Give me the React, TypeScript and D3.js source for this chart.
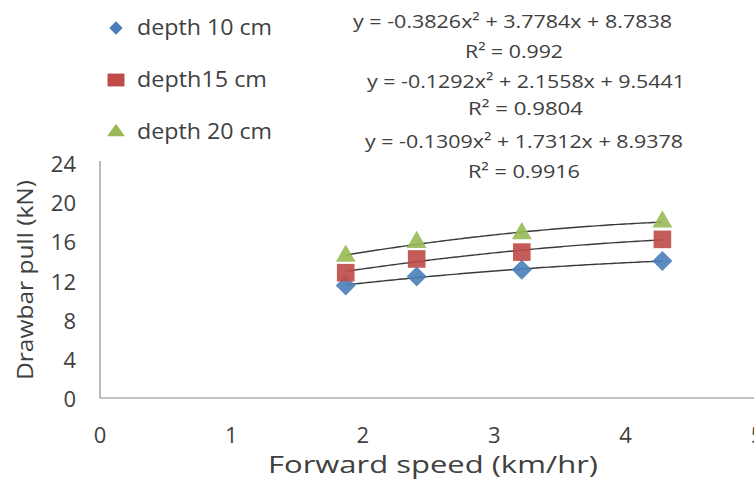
import { useEffect, useRef } from 'react';
import * as d3 from 'd3';

const speeds = [1.87, 2.41, 3.21, 4.28];
const depth10 = [11.5, 12.4, 13.1, 14.0];
const depth15 = [12.8, 14.2, 14.9, 16.2];
const depth20 = [14.5, 15.9, 16.8, 18.0];
const seriesNames = ['depth 10 cm', 'depth15 cm', 'depth 20 cm'];
const equations = [
  ['y = -0.3826x² + 3.7784x + 8.7838', 'R² = 0.992'],
  ['y = -0.1292x² + 2.1558x + 9.5441', 'R² = 0.9804'],
  ['y = -0.1309x² + 1.7312x + 8.9378', 'R² = 0.9916'],
];
const yTicks = [0, 4, 8, 12, 16, 20, 24];
const xTicks = [0, 1, 2, 3, 4, 5];

const colors = ['#4a7ebb', '#be4b48', '#98b954'];
const FONT = "'Open Sans', 'Noto Sans', sans-serif";
const INK = '#404040';

// least squares quadratic fit (for the trend lines)
function quadFit(xs: number[], ys: number[]) {
  const s = (f: (x: number, y: number) => number) => d3.sum(xs.map((x, i) => f(x, ys[i])));
  const A = [
    [s(x => x ** 4), s(x => x ** 3), s(x => x ** 2)],
    [s(x => x ** 3), s(x => x ** 2), s(x => x)],
    [s(x => x ** 2), s(x => x), xs.length],
  ];
  const b = [s((x, y) => x * x * y), s((x, y) => x * y), s((_, y) => y)];
  const det = (m: number[][]) =>
    m[0][0] * (m[1][1] * m[2][2] - m[1][2] * m[2][1]) -
    m[0][1] * (m[1][0] * m[2][2] - m[1][2] * m[2][0]) +
    m[0][2] * (m[1][0] * m[2][1] - m[1][1] * m[2][0]);
  const D = det(A);
  const coef = [0, 1, 2].map(c => det(A.map((row, r) => row.map((v, k) => (k === c ? b[r] : v)))) / D);
  return (x: number) => coef[0] * x * x + coef[1] * x + coef[2];
}

export default function App() {
  const ref = useRef<SVGSVGElement>(null);

  useEffect(() => {
    const svg = d3.select(ref.current);
    svg.selectAll('*').remove();

    const x = d3.scaleLinear().domain([0, 5]).range([100, 757]);
    const y = d3.scaleLinear().domain([0, 24]).range([398, 163]);

    const txt = (sel: any, size: number) =>
      sel.style('font-family', FONT).style('font-size', `${size}px`).style('fill', INK);

    // axes lines
    svg.append('line').attr('x1', 100).attr('x2', 100).attr('y1', 161).attr('y2', 398)
      .attr('stroke', '#8a8a8a').attr('stroke-width', 1.2);
    svg.append('line').attr('x1', 100).attr('x2', 754).attr('y1', 398).attr('y2', 398)
      .attr('stroke', '#8a8a8a').attr('stroke-width', 1.2);

    txt(svg.selectAll('.ytick').data(yTicks).enter().append('text')
      .attr('x', 76).attr('y', d => y(d) + 9).attr('text-anchor', 'end'), 22)
      .text(d => d);
    txt(svg.selectAll('.xtick').data(xTicks).enter().append('text')
      .attr('x', d => x(d)).attr('y', 443).attr('text-anchor', 'middle'), 22)
      .text(d => d);

    txt(svg.append('text').attr('transform', 'translate(33,280) rotate(-90)').attr('text-anchor', 'middle')
      .attr('textLength', 200).attr('lengthAdjust', 'spacingAndGlyphs'), 21)
      .text('Drawbar pull (kN)');
    txt(svg.append('text').attr('x', 433).attr('y', 473).attr('text-anchor', 'middle')
      .attr('textLength', 330).attr('lengthAdjust', 'spacingAndGlyphs'), 24)
      .text('Forward speed (km/hr)');

    const series = [depth10, depth15, depth20];
    // diamond = square turned 45°
    const shapes = [
      { sym: d3.symbolSquare, size: 200, rot: 45 },
      { sym: d3.symbolSquare, size: 310, rot: 0 },
      { sym: d3.symbolTriangle, size: 170, rot: 0 },
    ];

    // trend lines
    const line = d3.line<number>().x(d => x(d));
    series.forEach(vals => {
      const f = quadFit(speeds, vals);
      const xs = d3.range(0, 101).map(i => speeds[0] + (i / 100) * (speeds[3] - speeds[0]));
      svg.append('path').attr('d', line.y(d => y(f(d)))(xs))
        .attr('fill', 'none').attr('stroke', '#3a3a3a').attr('stroke-width', 1.4);
    });

    // markers
    series.forEach((vals, si) => {
      const sh = shapes[si];
      svg.append('g').selectAll('path').data(vals).enter().append('path')
        .attr('d', d3.symbol(sh.sym, sh.size))
        .attr('transform', (d, i) => `translate(${x(speeds[i])},${y(d)}) rotate(${sh.rot})`)
        .attr('fill', colors[si]).attr('fill-opacity', 0.9);
    });

    // legend
    const legendY = [28, 80, 132];
    const legendLen = [135, 130, 135];
    const legendScale = ['scale(1,1)', 'scale(1.06,0.8)', 'scale(1.05,0.85)'];
    seriesNames.forEach((name, i) => {
      const sh = shapes[i];
      svg.append('path').attr('d', d3.symbol(sh.sym, [90, 256, 125][i])())
        .attr('transform', `translate(116,${legendY[i]}) ${legendScale[i]} rotate(${sh.rot})`)
        .attr('fill', colors[i]);
      txt(svg.append('text').attr('x', 137).attr('y', legendY[i] + 7)
        .attr('textLength', legendLen[i]).attr('lengthAdjust', 'spacingAndGlyphs'), 21)
        .text(name);
    });

    // equations
    const eqX = [[353, 465], [367, 468], [365, 468]];
    const eqLen = [[319, 98], [318, 115], [318, 112]];
    const eqY = [[28, 58], [88, 115], [148, 178]];
    equations.forEach((eq, i) => {
      eq.forEach((t, j) => {
        txt(svg.append('text').attr('x', eqX[i][j]).attr('y', eqY[i][j])
          .attr('textLength', eqLen[i][j]).attr('lengthAdjust', 'spacingAndGlyphs'), 19)
          .text(t);
      });
    });
  }, []);

  return (
    <svg ref={ref} width={754} height={479}
      style={{ position: 'absolute', left: 0, top: 0, background: '#fff' }} />
  );
}
